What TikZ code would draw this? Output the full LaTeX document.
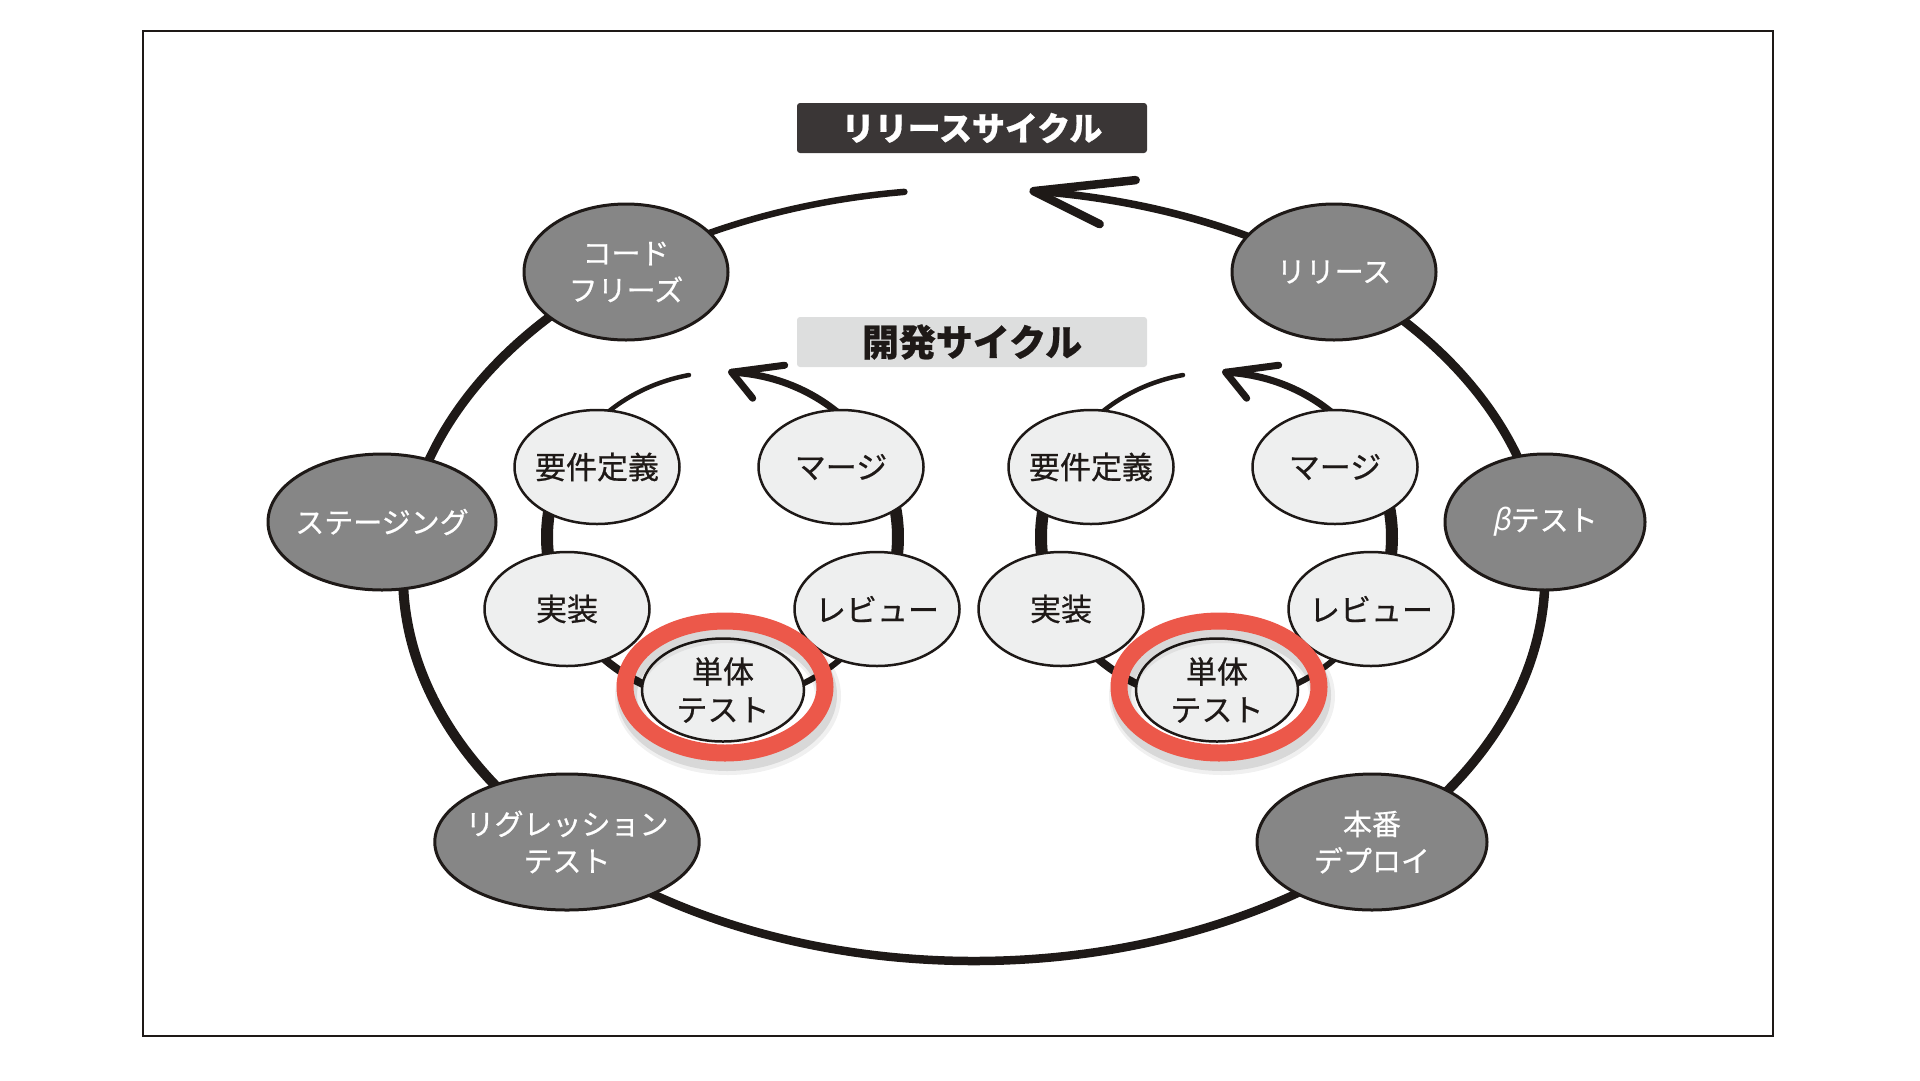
\documentclass[tikz,border=0pt]{standalone}
\usepackage{fontspec}
\setmainfont{Noto Sans CJK JP}[FakeBold=0.6]
\newfontfamily\betafont{Noto Sans CJK JP}[FakeSlant=0.2]
\usetikzlibrary{shapes.geometric, calc}
\usepackage{xcolor}
\definecolor{relgray}{RGB}{134,134,134}
\definecolor{devgray}{RGB}{238,239,239}
\definecolor{titledark}{RGB}{58,54,54}
\definecolor{titlelight}{RGB}{221,222,222}
\definecolor{ringred}{RGB}{236,88,74}
\definecolor{inkblack}{RGB}{30,25,23}
\tikzset{
    relnode/.style={ellipse, draw=inkblack, line width=3pt, fill=relgray, text=white, align=center, inner xsep=-8pt, inner ysep=0pt, minimum height=136pt, font=\fontsize{29}{37}\selectfont},
    devnode/.style={ellipse, draw=inkblack, line width=2.5pt, fill=devgray, text=inkblack, align=center, inner xsep=-6pt, inner ysep=0pt, minimum width=165pt, minimum height=114pt, font=\fontsize{31}{38}\selectfont},
    titlebox/.style={rectangle, rounded corners=3pt, minimum width=350pt, minimum height=50pt, inner sep=0pt},
    relloop/.style={draw=inkblack, line cap=round},
    devloop/.style={draw=inkblack, line cap=round},
    barb/.style={draw=inkblack, line cap=round, line join=round},
    ring/.style={draw=ringred, line width=17pt}
}
% one piece of the release loop: from angle, to angle, width
\newcommand{\relarc}[3]{\draw[relloop, line width=#3] (oc) ++(#1:571 and 386) arc[start angle=#1, end angle=#2, x radius=571, y radius=386];}
% one piece of a development loop: centre, from angle, to angle, width
\newcommand{\devarc}[4]{\draw[devloop, line width=#4] (#1) ++(#2:175.5 and 165) arc[start angle=#2, end angle=#3, x radius=175.5, y radius=165];}

\begin{document}
\begin{tikzpicture}[x=1pt, y=1pt]
    \useasboundingbox (0,0) rectangle (1920,-1080);
    \draw[line width=2pt, inkblack] (143,-31) rectangle (1773,-1036);

    % release cycle
    \coordinate (oc) at (974,-575);
    \relarc{97}{128}{6.5pt}
    \relarc{128}{172}{9pt}
    \relarc{172}{224}{10pt}
    \relarc{224}{315}{8.5pt}
    \relarc{315}{368}{9.5pt}
    \relarc{368}{411}{9pt}
    \relarc{411}{444}{7.5pt}
    \coordinate (reltip) at ($(oc)+(84:571 and 386)$);
    \draw[barb, line width=8.5pt] (reltip) -- ++(102,11) (reltip) -- ++(66,-33);
    \node[relnode, minimum width=204pt] (freeze) at (626,-272) {コード\\フリーズ};
    \node[relnode, minimum width=204pt] (release) at (1334,-272) {リリース};
    \node[relnode, minimum width=228pt] (staging) at (382,-522) {ステージング};
    \node[relnode, minimum width=200pt] (beta) at (1545,-522) {{\betafont β}テスト};
    \node[relnode, minimum width=254pt] (regress) at (567,-842) {リグレッション\\テスト};
    \node[relnode, minimum width=230pt] (deploy) at (1372,-842) {本番\\デプロイ};

    % development cycle, left
    \coordinate (lc) at (722.5,-537);
    \devarc{lc}{101}{149}{4.5pt}
    \devarc{lc}{149}{206}{12pt}
    \devarc{lc}{206}{270}{8pt}
    \devarc{lc}{270}{334}{6pt}
    \devarc{lc}{334}{392}{12pt}
    \devarc{lc}{392}{447}{7pt}
    \coordinate (ltip) at ($(lc)+(87:175.5 and 165)$);
    \draw[barb, line width=7pt] (ltip) -- ++(53,7) (ltip) -- ++(21,-26);
    \node[devnode] (lreq) at (597,-467) {要件定義};
    \node[devnode] (lmerge) at (841,-467) {マージ};
    \node[devnode] (limpl) at (567,-609) {実装};
    \node[devnode] (lreview) at (877,-609) {レビュー};
    \node[devnode, minimum width=162pt, minimum height=103pt] (lunit) at (723,-690) {単体\\テスト};

    % development cycle, right
    \coordinate (rc) at (1216.5,-537);
    \devarc{rc}{101}{149}{4.5pt}
    \devarc{rc}{149}{206}{12pt}
    \devarc{rc}{206}{270}{8pt}
    \devarc{rc}{270}{334}{6pt}
    \devarc{rc}{334}{392}{12pt}
    \devarc{rc}{392}{447}{7pt}
    \coordinate (rtip) at ($(rc)+(87:175.5 and 165)$);
    \draw[barb, line width=7pt] (rtip) -- ++(53,7) (rtip) -- ++(21,-26);
    \node[devnode] (rreq) at (1091,-467) {要件定義};
    \node[devnode] (rmerge) at (1335,-467) {マージ};
    \node[devnode] (rimpl) at (1061,-609) {実装};
    \node[devnode] (rreview) at (1371,-609) {レビュー};
    \node[devnode, minimum width=162pt, minimum height=103pt] (runit) at (1217,-690) {単体\\テスト};

    % red rings with shadow
    \draw[black, opacity=0.06, line width=26pt] (lunit.center) ++(5,-6) ellipse[x radius=100, y radius=66];
    \draw[black, opacity=0.10, line width=20pt] (lunit.center) ++(4,-5) ellipse[x radius=100, y radius=66];
    \draw[ring] (lunit.center) ++(2,3) ellipse[x radius=100, y radius=66];
    \draw[black, opacity=0.06, line width=26pt] (runit.center) ++(5,-6) ellipse[x radius=100, y radius=66];
    \draw[black, opacity=0.10, line width=20pt] (runit.center) ++(4,-5) ellipse[x radius=100, y radius=66];
    \draw[ring] (runit.center) ++(2,3) ellipse[x radius=100, y radius=66];

    % titles
    \node[titlebox, fill=titledark, text=white, font=\bfseries\fontsize{33}{33}\selectfont] (reltitle) at (972,-128) {リリースサイクル};
    \node[titlebox, fill=titlelight, text=inkblack, font=\bfseries\fontsize{37}{37}\selectfont] (devtitle) at (972,-342) {開発サイクル};
\end{tikzpicture}
\end{document}
